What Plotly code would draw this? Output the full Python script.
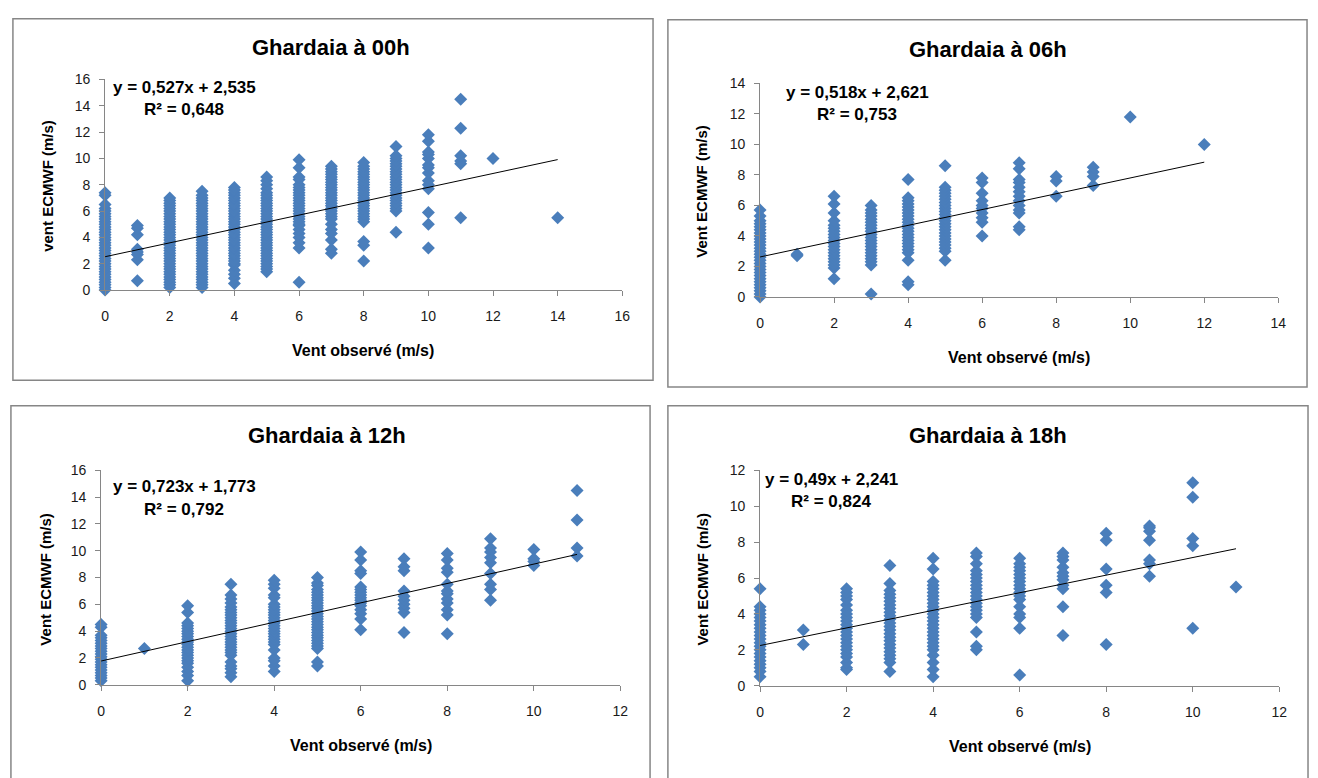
import plotly.graph_objects as go

# ---------------- data: ECMWF wind vs observed wind, Ghardaia ----------------
titles = ["Ghardaia à 00h", "Ghardaia à 06h", "Ghardaia à 12h", "Ghardaia à 18h"]
y_titles = ["vent ECMWF (m/s)", "Vent ECMWF (m/s)", "Vent ECMWF (m/s)", "Vent ECMWF (m/s)"]
x_title = "Vent observé (m/s)"
slopes = [0.527, 0.518, 0.723, 0.49]
intercepts = [2.535, 2.621, 1.773, 2.241]
r2_values = [0.648, 0.753, 0.792, 0.824]
x_ranges = [16, 14, 12, 12]
y_ranges = [16, 14, 16, 12]

# 00h: observed speed -> model speeds
obs_00h = {
    0: [0.0, 0.2, 0.4, 0.6, 0.8, 1.0, 1.2, 1.4, 1.6, 1.8, 2.0, 2.2, 2.4, 2.6, 2.8, 3.0,
        3.2, 3.4, 3.6, 3.8, 4.0, 4.2, 4.4, 4.6, 4.8, 5.0, 5.2, 5.4, 5.6, 5.8, 6.0, 6.2,
        6.5, 7.2, 7.4],
    1: [0.7, 2.3, 2.7, 2.9, 3.1, 4.2, 4.7, 4.9],
    2: [0.2, 0.4, 0.6, 0.8, 1.0, 1.2, 1.4, 1.6, 1.8, 2.0, 2.2, 2.4, 2.6, 2.8, 3.0, 3.2,
        3.4, 3.6, 3.8, 4.0, 4.2, 4.4, 4.6, 4.8, 5.0, 5.2, 5.4, 5.6, 5.8, 6.0, 6.2, 6.4,
        6.6, 6.8, 7.0],
    3: [0.2, 0.4, 0.6, 0.8, 1.0, 1.2, 1.4, 1.6, 1.8, 2.0, 2.2, 2.4, 2.6, 2.8, 3.0, 3.2,
        3.4, 3.6, 3.8, 4.0, 4.2, 4.4, 4.6, 4.8, 5.0, 5.2, 5.4, 5.6, 5.8, 6.0, 6.2, 6.4,
        6.6, 6.8, 7.0, 7.2, 7.5],
    4: [0.5, 0.9, 1.2, 1.5, 1.9, 2.0, 2.2, 2.4, 2.6, 2.8, 3.0, 3.2, 3.4, 3.6, 3.8, 4.0,
        4.2, 4.4, 4.6, 4.8, 5.0, 5.2, 5.4, 5.6, 5.8, 6.0, 6.2, 6.4, 6.6, 6.8, 7.0, 7.2,
        7.4, 7.6, 7.8],
    5: [1.4, 1.6, 1.8, 2.0, 2.2, 2.4, 2.6, 2.8, 3.0, 3.2, 3.4, 3.6, 3.8, 4.0, 4.2, 4.4,
        4.6, 4.8, 5.0, 5.2, 5.4, 5.6, 5.8, 6.0, 6.2, 6.4, 6.6, 6.8, 7.0, 7.2, 7.4, 7.7,
        8.0, 8.3, 8.6],
    6: [0.6, 3.2, 3.6, 4.0, 4.3, 4.6, 4.9, 5.0, 5.2, 5.4, 5.6, 5.8, 6.0, 6.2, 6.4, 6.6,
        6.8, 7.0, 7.2, 7.4, 7.6, 7.8, 8.0, 8.4, 8.6, 9.3, 9.9],
    7: [2.8, 3.1, 3.8, 4.3, 4.6, 5.0, 5.4, 5.6, 5.8, 6.0, 6.2, 6.4, 6.6, 6.8, 7.0, 7.2,
        7.4, 7.6, 7.8, 8.0, 8.2, 8.4, 8.6, 8.8, 9.0, 9.2, 9.4],
    8: [2.2, 3.4, 3.7, 5.2, 5.4, 5.6, 5.8, 6.0, 6.2, 6.4, 6.6, 6.8, 7.0, 7.2, 7.4, 7.6,
        7.8, 8.0, 8.2, 8.4, 8.6, 8.8, 9.0, 9.2, 9.4, 9.7],
    9: [4.4, 6.0, 6.2, 6.4, 6.6, 6.8, 7.0, 7.2, 7.4, 7.6, 7.8, 8.0, 8.2, 8.4, 8.6, 8.8,
        9.0, 9.2, 9.4, 9.6, 9.8, 10.0, 10.2, 10.9],
    10: [3.2, 5.0, 5.9, 7.7, 8.0, 8.3, 8.9, 9.3, 9.5, 10.0, 10.3, 10.5, 11.3, 11.8],
    11: [5.5, 9.6, 9.8, 10.2, 12.3, 14.5],
    12: [10.0],
    14: [5.5],
}

# 06h
obs_06h = {
    0: [0.0, 0.2, 0.4, 0.6, 0.8, 1.0, 1.2, 1.4, 1.6, 1.8, 2.0, 2.2, 2.4, 2.6, 2.8, 3.0,
        3.2, 3.4, 3.6, 3.8, 4.0, 4.2, 4.4, 4.6, 4.8, 5.0, 5.3, 5.7],
    1: [2.7, 2.8],
    2: [1.2, 1.9, 2.1, 2.3, 2.5, 2.7, 2.9, 3.1, 3.3, 3.5, 3.7, 3.9, 4.1, 4.3, 4.5, 4.7,
        5.0, 5.5, 6.1, 6.6],
    3: [0.2, 2.1, 2.3, 2.5, 2.7, 2.9, 3.1, 3.3, 3.5, 3.7, 3.9, 4.1, 4.3, 4.5, 4.7, 4.9,
        5.1, 5.3, 5.5, 5.7, 6.0],
    4: [0.8, 1.0, 2.4, 2.9, 3.1, 3.3, 3.5, 3.7, 3.9, 4.1, 4.3, 4.5, 4.7, 4.9, 5.1, 5.3,
        5.5, 5.7, 5.9, 6.1, 6.3, 6.5, 7.7],
    5: [2.4, 3.0, 3.2, 3.4, 3.6, 3.8, 4.0, 4.2, 4.4, 4.6, 4.8, 5.0, 5.2, 5.4, 5.6, 5.8,
        6.0, 6.2, 6.4, 6.6, 6.8, 7.0, 7.2, 8.6],
    6: [4.0, 4.9, 5.2, 5.5, 5.8, 6.0, 6.3, 6.8, 7.5, 7.8],
    7: [4.4, 4.6, 5.5, 5.7, 6.0, 6.3, 6.6, 6.9, 7.2, 7.5, 7.7, 8.4, 8.8],
    8: [6.6, 7.6, 7.9],
    9: [7.3, 7.9, 8.2, 8.5],
    10: [11.8],
    12: [10.0],
}

# 12h
obs_12h = {
    0: [0.3, 0.5, 0.7, 0.9, 1.1, 1.3, 1.5, 1.7, 1.9, 2.1, 2.3, 2.5, 2.7, 2.9, 3.1, 3.3,
        3.5, 3.7, 4.3, 4.5],
    1: [2.7],
    2: [0.3, 0.7, 1.0, 1.3, 1.6, 1.8, 2.0, 2.2, 2.4, 2.6, 2.8, 3.0, 3.2, 3.4, 3.6, 3.8,
        4.0, 4.2, 4.4, 4.6, 5.4, 5.9],
    3: [0.6, 0.9, 1.2, 1.4, 1.7, 2.2, 2.4, 2.6, 2.8, 3.0, 3.2, 3.4, 3.6, 3.8, 4.0, 4.2,
        4.4, 4.6, 4.8, 5.0, 5.2, 5.4, 5.6, 5.8, 6.1, 6.4, 6.7, 7.5],
    4: [1.0, 1.4, 1.8, 2.0, 2.6, 3.0, 3.2, 3.4, 3.6, 3.8, 4.0, 4.2, 4.4, 4.6, 4.8, 5.0,
        5.2, 5.4, 5.6, 5.8, 6.0, 6.5, 6.7, 7.2, 7.5, 7.8],
    5: [1.4, 1.7, 2.7, 2.9, 3.1, 3.3, 3.5, 3.7, 3.9, 4.1, 4.3, 4.5, 4.7, 4.9, 5.1, 5.3,
        5.5, 5.7, 5.9, 6.1, 6.3, 6.5, 6.7, 6.9, 7.1, 7.4, 7.6, 8.0],
    6: [4.1, 4.9, 5.3, 5.6, 5.9, 6.1, 6.3, 6.5, 6.7, 6.9, 7.1, 7.3, 8.3, 8.5, 9.3, 9.9],
    7: [3.9, 5.4, 5.7, 6.0, 6.3, 6.6, 7.0, 8.5, 8.8, 9.4],
    8: [3.8, 5.2, 5.6, 6.1, 6.4, 6.8, 7.0, 7.5, 8.4, 8.7, 9.3, 9.8],
    9: [6.3, 7.1, 7.5, 8.3, 9.1, 9.5, 9.9, 10.2, 10.9],
    10: [8.9, 9.2, 9.4, 10.1],
    11: [9.6, 10.2, 12.3, 14.5],
}

# 18h
obs_18h = {
    0: [0.5, 0.8, 1.0, 1.2, 1.4, 1.6, 1.8, 2.0, 2.2, 2.4, 2.6, 2.8, 3.0, 3.2, 3.4, 3.6,
        3.8, 4.0, 4.2, 4.4, 5.4],
    1: [2.3, 3.1],
    2: [0.9, 1.0, 1.3, 1.6, 1.8, 2.0, 2.2, 2.4, 2.6, 2.8, 3.0, 3.2, 3.4, 3.6, 3.8, 4.0,
        4.2, 4.5, 4.8, 5.0, 5.2, 5.4],
    3: [0.8, 1.3, 1.5, 1.7, 1.9, 2.1, 2.3, 2.5, 2.7, 2.9, 3.1, 3.3, 3.5, 3.7, 3.9, 4.1,
        4.3, 4.5, 4.7, 4.9, 5.1, 5.3, 5.7, 6.7],
    4: [0.5, 0.9, 1.3, 1.7, 2.0, 2.2, 2.4, 2.6, 2.8, 3.0, 3.2, 3.4, 3.6, 3.8, 4.0, 4.2,
        4.4, 4.6, 4.8, 5.0, 5.2, 5.4, 5.6, 5.8, 6.5, 7.1],
    5: [2.0, 2.2, 3.0, 3.8, 4.0, 4.2, 4.4, 4.6, 4.8, 5.0, 5.2, 5.4, 5.6, 5.8, 6.0, 6.2,
        6.4, 6.8, 7.2, 7.4],
    6: [0.6, 3.2, 3.8, 4.0, 4.4, 4.8, 5.0, 5.2, 5.4, 5.6, 5.8, 6.0, 6.2, 6.4, 6.6, 6.8,
        7.1],
    7: [2.8, 4.4, 5.4, 5.6, 5.9, 6.1, 6.3, 6.6, 7.0, 7.2, 7.4],
    8: [2.3, 5.2, 5.6, 6.5, 8.1, 8.5],
    9: [6.1, 6.8, 7.0, 8.1, 8.6, 8.8, 8.9],
    10: [3.2, 7.8, 8.2, 10.5, 11.3],
    11: [5.5],
}

panels = [obs_00h, obs_06h, obs_12h, obs_18h]

# ---------------- layout geometry (pixels in a 1318 x 778 page) ----------------
W, H = 1318, 778
plot_boxes = [  # left, right, top, bottom of each plotting area
    (102, 624, 73, 288),
    (763, 1286, 77, 295),
    (98, 622, 472, 691),
    (763, 1287, 472, 692),
]
frames = [  # outer chart border
    (9, 655, 11, 380),
    (670, 1315, 12, 387),
    (7, 652, 406, 790),
    (670, 1316, 406, 790),
]
title_pos = [(330, 40), (993, 42), (326, 436), (993, 436)]
xtitle_pos = [(362, 350), (1024, 357), (360, 753), (1025, 754)]
ytitle_pos = [(44, 182), (704, 187), (41, 583), (704, 583)]
eq_pos = [(182, 81), (861, 86), (182, 489), (835, 481)]
r2_pos = [(182, 104), (861, 109), (182, 512), (835, 504)]


def px(x):
    return x / W


def py(y):
    return 1 - y / H


MARKER = "#4A7EBB"
AXIS = "#868686"
FONT = "Liberation Sans"

fig = go.Figure()
layout = dict(
    width=W, height=H, margin=dict(l=0, r=0, t=0, b=0),
    paper_bgcolor="white", plot_bgcolor="white", showlegend=False,
    font=dict(family=FONT, color="#000000"),
)
annotations = []
shapes = []

for i, data in enumerate(panels):
    n = "" if i == 0 else str(i + 1)
    xs, ys = [], []
    for obs, vals in data.items():
        xs.extend([obs] * len(vals))
        ys.extend(vals)
    xref, yref = "x" + n, "y" + n

    fig.add_trace(go.Scatter(
        x=xs, y=ys, mode="markers", xaxis=xref, yaxis=yref, cliponaxis=False,
        marker=dict(symbol="diamond", size=10, color=MARKER, line=dict(width=0)),
        hoverinfo="x+y",
    ))
    x0, x1 = min(xs), max(xs)
    fig.add_trace(go.Scatter(
        x=[x0, x1],
        y=[slopes[i] * x0 + intercepts[i], slopes[i] * x1 + intercepts[i]],
        mode="lines", xaxis=xref, yaxis=yref, cliponaxis=False,
        line=dict(color="#000000", width=1), hoverinfo="skip",
    ))

    l, r, t, b = plot_boxes[i]
    axis_common = dict(
        showgrid=False, zeroline=False, showline=True, linecolor=AXIS, linewidth=1,
        ticks="outside", ticklen=5, tickcolor=AXIS, tickwidth=1, dtick=2,
        tickfont=dict(family=FONT, size=14, color="#1a1a1a"), fixedrange=True,
    )
    layout["xaxis" + n] = dict(
        axis_common, domain=[px(l), px(r)], range=[0, x_ranges[i]],
        anchor=yref, ticklabelstandoff=8,
    )
    layout["yaxis" + n] = dict(
        axis_common, domain=[py(b), py(t)], range=[0, y_ranges[i]],
        anchor=xref, ticklabelstandoff=6,
    )

    fl, fr, ft, fb = frames[i]
    shapes.append(dict(
        type="rect", xref="paper", yref="paper",
        x0=px(fl), x1=px(fr), y0=py(fb), y1=py(ft),
        line=dict(color=AXIS, width=1.5), fillcolor="rgba(0,0,0,0)", layer="below",
    ))

    def add_text(text, pos, size, angle=0, bold=True):
        annotations.append(dict(
            text=f"<b>{text}</b>" if bold else text,
            x=px(pos[0]), y=py(pos[1]), xref="paper", yref="paper",
            xanchor="center", yanchor="middle", showarrow=False, textangle=angle,
            font=dict(family=FONT, size=size, color="#000000"),
        ))

    add_text(titles[i], title_pos[i], 22)
    add_text(x_title, xtitle_pos[i], 16)
    add_text(y_titles[i], ytitle_pos[i], 15, angle=-90)
    eq = f"y = {slopes[i]:g}x + {intercepts[i]:.3f}".replace(".", ",")
    add_text(eq, eq_pos[i], 17)
    add_text(f"R² = {r2_values[i]:.3f}".replace(".", ","), r2_pos[i], 17)

layout["annotations"] = annotations
layout["shapes"] = shapes
fig.update_layout(**layout)
# the figure fills the whole page, so drop the browser's default body margin
fig.write_html("out.html", post_script="document.body.style.margin = '0px';")
